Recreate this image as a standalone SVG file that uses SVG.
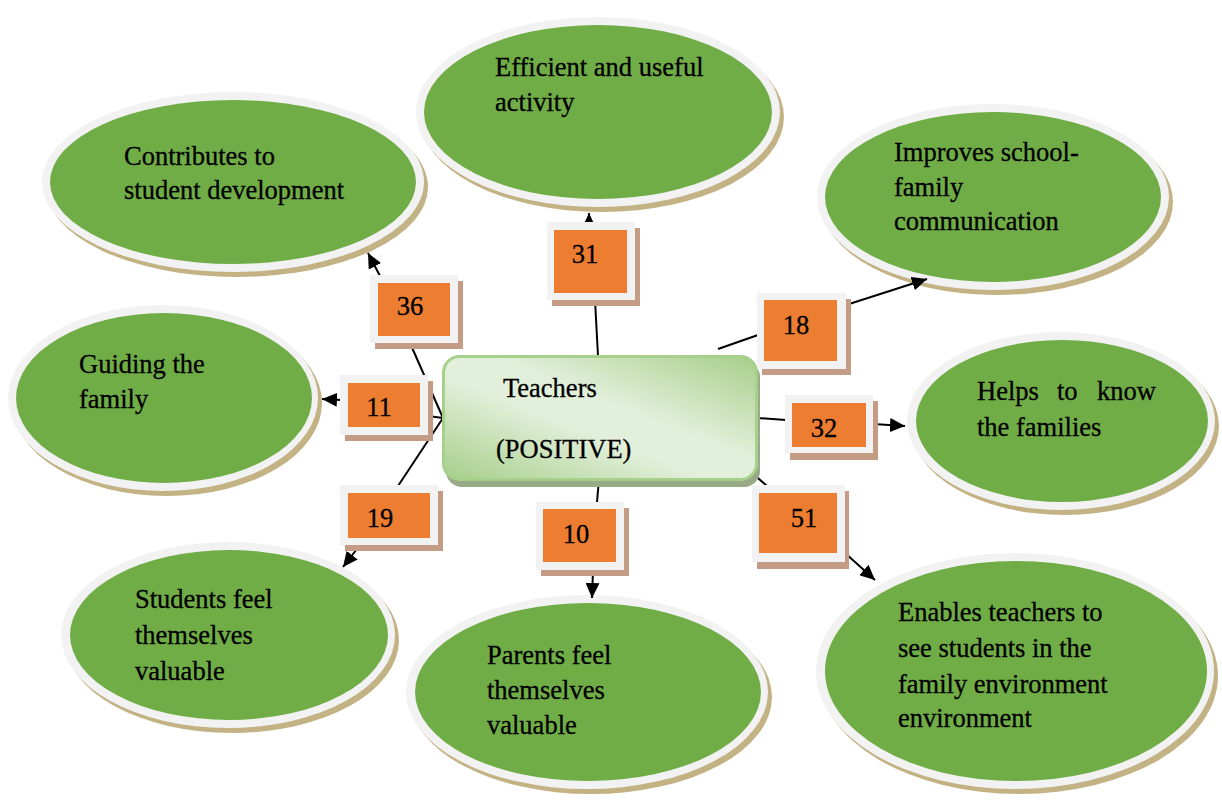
<svg xmlns="http://www.w3.org/2000/svg" width="1222" height="800" viewBox="0 0 1222 800">
<style>
.esh{fill:#c2b284}
.ering{fill:#f2f2f2}
.egreen{fill:#70ad47}
.t{font-family:'Liberation Serif',serif;font-size:26.5px;fill:#000;stroke:#000;stroke-width:0.3}
.bsh{fill:#c49c86}
.bout{fill:#f2f2f2}
.bin{fill:#ed7d31}
.num{font-family:'Liberation Serif',serif;font-size:26.5px;fill:#000;stroke:#000;stroke-width:0.3;text-anchor:middle}
.ln{stroke:#000;stroke-width:2;fill:none}
.ar{stroke:#000;stroke-width:2;fill:none;marker-end:url(#ah)}
</style>
<defs>
<marker id="ah" markerUnits="userSpaceOnUse" markerWidth="16" markerHeight="14" refX="15" refY="7" orient="auto">
<path d="M0,0 L15,7 L0,14 z" fill="#000"/>
</marker>
<linearGradient id="cg" x1="1" y1="0" x2="0" y2="1">
<stop offset="0" stop-color="#a6cf8a"/>
<stop offset="0.42" stop-color="#e2efda"/>
<stop offset="0.58" stop-color="#e2efda"/>
<stop offset="1" stop-color="#a6cf8a"/>
</linearGradient>
</defs>
<rect width="1222" height="800" fill="#fff"/>

<g id="n-efficient">
<ellipse class="esh" cx="602" cy="117" rx="182" ry="95"/>
<ellipse class="ering" cx="598" cy="112" rx="182" ry="95"/>
<ellipse class="egreen" cx="598" cy="112" rx="174" ry="87"/>
<text class="t"><tspan x="495" y="76">Efficient and useful</tspan><tspan x="495" y="111">activity</tspan></text>
</g>
<g id="n-contributes">
<ellipse class="esh" cx="237" cy="187" rx="191" ry="90"/>
<ellipse class="ering" cx="233" cy="182" rx="191" ry="90"/>
<ellipse class="egreen" cx="233" cy="182" rx="183" ry="82"/>
<text class="t"><tspan x="124" y="165">Contributes to</tspan><tspan x="124" y="199">student development</tspan></text>
</g>
<g id="n-improves">
<ellipse class="esh" cx="997" cy="202" rx="176" ry="93"/>
<ellipse class="ering" cx="993" cy="197" rx="176" ry="93"/>
<ellipse class="egreen" cx="993" cy="197" rx="168" ry="85"/>
<text class="t"><tspan x="894" y="161">Improves school-</tspan><tspan x="894" y="196">family</tspan><tspan x="894" y="230">communication</tspan></text>
</g>
<g id="n-guiding">
<ellipse class="esh" cx="167" cy="403" rx="155" ry="93"/>
<ellipse class="ering" cx="163" cy="398" rx="155" ry="93"/>
<ellipse class="egreen" cx="164" cy="398" rx="148" ry="85"/>
<text class="t"><tspan x="79" y="373">Guiding the</tspan><tspan x="79" y="408">family</tspan></text>
</g>
<g id="n-helps">
<ellipse class="esh" cx="1065" cy="426" rx="154" ry="89"/>
<ellipse class="ering" cx="1061" cy="421" rx="154" ry="89"/>
<ellipse class="egreen" cx="1062" cy="421" rx="146" ry="81"/>
<text class="t"><tspan x="977" y="400">Helps</tspan><tspan x="1057" y="400">to</tspan><tspan x="1097" y="400">know</tspan><tspan x="977" y="436">the families</tspan></text>
</g>
<g id="n-students">
<ellipse class="esh" cx="232" cy="640" rx="167" ry="93"/>
<ellipse class="ering" cx="228" cy="635" rx="167" ry="93"/>
<ellipse class="egreen" cx="229" cy="635" rx="159" ry="85"/>
<text class="t"><tspan x="135" y="608">Students feel</tspan><tspan x="135" y="644">themselves</tspan><tspan x="135" y="680">valuable</tspan></text>
</g>
<g id="n-parents">
<ellipse class="esh" cx="591" cy="697" rx="181" ry="97"/>
<ellipse class="ering" cx="587" cy="692" rx="181" ry="97"/>
<ellipse class="egreen" cx="588" cy="692" rx="173" ry="89"/>
<text class="t"><tspan x="487" y="664">Parents feel</tspan><tspan x="487" y="699">themselves</tspan><tspan x="487" y="734">valuable</tspan></text>
</g>
<g id="n-enables">
<ellipse class="esh" cx="1019" cy="676" rx="199" ry="118"/>
<ellipse class="ering" cx="1015" cy="671" rx="199" ry="118"/>
<ellipse class="egreen" cx="1016" cy="671" rx="191" ry="110"/>
<text class="t"><tspan x="898" y="621">Enables teachers to</tspan><tspan x="898" y="657">see students in the</tspan><tspan x="898" y="693">family environment</tspan><tspan x="898" y="727">environment</tspan></text>
</g>

<g id="connectors">
<line class="ln" x1="443" y1="418" x2="410" y2="343"/>
<line class="ar" x1="380" y1="276" x2="368" y2="253"/>
<line class="ln" x1="443" y1="418" x2="428" y2="416"/>
<line class="ar" x1="341" y1="400" x2="322" y2="399"/>
<line class="ln" x1="443" y1="418" x2="398" y2="486"/>
<line class="ar" x1="360" y1="545" x2="343" y2="567"/>
<line class="ln" x1="598" y1="356" x2="595" y2="300"/>
<line class="ar" x1="589" y1="226" x2="589" y2="213"/>
<line class="ln" x1="718" y1="349" x2="758" y2="335"/>
<line class="ar" x1="846" y1="305" x2="927" y2="279"/>
<line class="ln" x1="757" y1="418" x2="786" y2="420"/>
<line class="ar" x1="873" y1="424" x2="905" y2="426"/>
<line class="ln" x1="743" y1="465" x2="767" y2="486"/>
<line class="ar" x1="845" y1="553" x2="875" y2="580"/>
<line class="ln" x1="599" y1="479" x2="597" y2="502"/>
<line class="ar" x1="593" y1="570" x2="592" y2="598"/>
</g>

<g id="n-center">
<rect x="446" y="361" width="314" height="126" rx="16" fill="#98aa88"/>
<rect x="443.5" y="356.5" width="313" height="123" rx="16" fill="url(#cg)" stroke="#a6d08b" stroke-width="3"/>
<text class="t"><tspan x="503" y="397">Teachers</tspan><tspan x="496" y="458">(POSITIVE)</tspan></text>
</g>

<g id="b36">
<rect class="bsh" x="375" y="281" width="88" height="68"/>
<rect class="bout" x="370" y="275" width="88" height="68"/>
<rect class="bin" x="378" y="283" width="72" height="53"/>
<text class="num" x="410" y="315">36</text>
</g>
<g id="b31">
<rect class="bsh" x="552" y="228" width="88" height="78"/>
<rect class="bout" x="547" y="222" width="88" height="78"/>
<rect class="bin" x="554" y="230" width="73" height="63"/>
<text class="num" x="585" y="263">31</text>
</g>
<g id="b18">
<rect class="bsh" x="762" y="299" width="89" height="76"/>
<rect class="bout" x="757" y="293" width="89" height="76"/>
<rect class="bin" x="764" y="300" width="73" height="61"/>
<text class="num" x="796" y="334">18</text>
</g>
<g id="b11">
<rect class="bsh" x="345" y="381" width="88" height="60"/>
<rect class="bout" x="340" y="375" width="88" height="60"/>
<rect class="bin" x="348" y="383" width="72" height="44"/>
<text class="num" x="379" y="416">11</text>
</g>
<g id="b19">
<rect class="bsh" x="345" y="491" width="98" height="60"/>
<rect class="bout" x="340" y="485" width="98" height="60"/>
<rect class="bin" x="348" y="493" width="82" height="45"/>
<text class="num" x="380" y="527">19</text>
</g>
<g id="b10">
<rect class="bsh" x="541" y="508" width="88" height="68"/>
<rect class="bout" x="536" y="502" width="88" height="68"/>
<rect class="bin" x="543" y="509" width="73" height="53"/>
<text class="num" x="576" y="543">10</text>
</g>
<g id="b32">
<rect class="bsh" x="790" y="401" width="88" height="59"/>
<rect class="bout" x="785" y="395" width="88" height="58"/>
<rect class="bin" x="792" y="403" width="74" height="44"/>
<text class="num" x="824" y="437">32</text>
</g>
<g id="b51">
<rect class="bsh" x="757" y="491" width="92" height="78"/>
<rect class="bout" x="752" y="485" width="93" height="77"/>
<rect class="bin" x="759" y="493" width="78" height="60"/>
<text class="num" x="804" y="527">51</text>
</g>
</svg>
